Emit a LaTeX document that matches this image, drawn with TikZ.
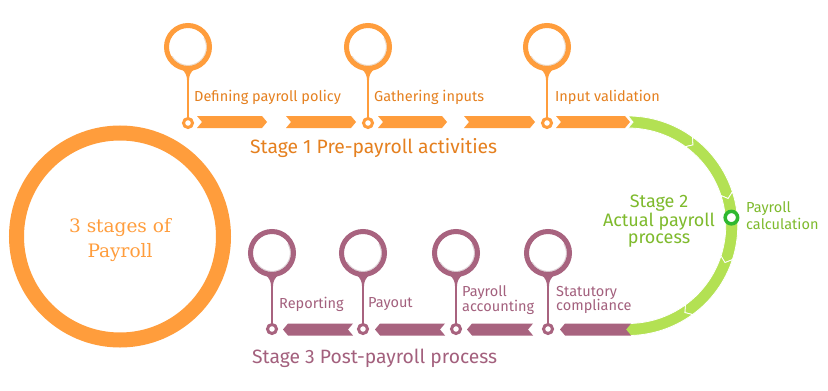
\documentclass[tikz,border=0pt]{standalone}
\usepackage{fontspec}
\setmainfont{Fira Sans}
\newfontfamily\slabfont{DejaVu Serif}
\usetikzlibrary{calc}
\definecolor{orng}{HTML}{FF9D3C}
\definecolor{orngtxt}{HTML}{E5801F}
\definecolor{grn}{HTML}{B3E153}
\definecolor{grntxt}{HTML}{7EBA2C}
\definecolor{grndark}{HTML}{2EB830}
\definecolor{mauve}{HTML}{A8637F}
\definecolor{mauvetxt}{HTML}{A3607D}
\newcommand\chevR[4]{\fill[#4] (#1,{#3+6}) -- ({#2-5},{#3+6}) -- (#2,#3) -- ({#2-5},{#3-6}) -- (#1,{#3-6}) -- ({#1+5},#3) -- cycle;}
\newcommand\chevL[4]{\fill[#4] (#1,#3) -- ({#1+5},{#3+6}) -- (#2,{#3+6}) -- ({#2-5},#3) -- (#2,{#3-6}) -- ({#1+5},{#3-6}) -- cycle;}
\newcommand\drop[2]{\fill[#2] ($(#1.south)+(-6.5,2)$) .. controls +(4,-3) and +(0,4) .. ($(#1.south)+(-1,-9)$) -- ($(#1.south)+(1,-9)$) .. controls +(0,4) and +(-4,-3) .. ($(#1.south)+(6.5,2)$) -- cycle;}
\begin{document}
\begin{tikzpicture}[x=1pt,y=1pt,
  ring/.style={circle, draw=#1, line width=5pt, fill=white, minimum size=43pt, inner sep=0pt},
  dot/.style={circle, draw=#1, line width=3pt, fill=white, minimum size=9pt, inner sep=0pt},
  lbl/.style={anchor=west, inner sep=0pt, font=\fontsize{14.5}{14.6}\selectfont, align=left},
  stagetxt/.style={anchor=west, inner sep=0pt, font=\fontsize{19.3}{16}\selectfont}]
\useasboundingbox (0,0) rectangle (828,-391);
\fill[white] (0,0) rectangle (828,-391);

% big circle
\node[circle, draw=orng, line width=15pt, minimum size=207pt, inner sep=0pt] (big) at (120,-236.5) {};
\node[text=orng, font=\slabfont\fontsize{18.5}{24.5}\selectfont, align=center] (bigtxt) at (120,-240) {3 stages of\\Payroll};

% top pins
\foreach \i/\x in {1/188,2/368,3/547} {
  \draw[orng, line width=2pt] (\x,-68) -- (\x,-118);
  \node[ring=orng] (p\i) at (\x,-47) {};
  \draw[orng!75!black, opacity=0.25, line width=1.2pt] ([shift={(-150:18.5)}]p\i.center) arc[start angle=-150, end angle=30, radius=18.5];
  \drop{p\i}{orng}
  \node[dot=orng] (d\i) at (\x,-123) {};
}
\chevR{197}{267}{-122}{orng}
\chevR{286}{356}{-122}{orng}
\chevR{378}{447}{-122}{orng}
\chevR{464}{535}{-122}{orng}
\chevR{556}{630}{-122}{orng}

\node[lbl, text=orngtxt] (l1) at (194,-97) {Defining payroll policy};
\node[lbl, text=orngtxt] (l2) at (374,-97) {Gathering inputs};
\node[lbl, text=orngtxt] (l3) at (555,-97) {Input validation};
\node[stagetxt, text=orngtxt] (s1) at (250,-148) {Stage 1 Pre-payroll activities};

% green arc
\begin{scope}[shift={(628,-225.75)}]
\foreach \a/\b in {90/54,54/18,18/-18,-18/-54,-54/-90} {
  \filldraw[fill=grn, draw=white, line width=0.8pt] (\a:109.75) arc[start angle=\a, end angle=\b, radius=109.75] -- ({\b-2.8}:103.75) -- (\b:97.75) arc[start angle=\b, end angle=\a, radius=97.75] -- ({\a-2.8}:103.75) -- cycle;
}
\end{scope}
\node[circle, draw=grndark, line width=3.5pt, fill=white, minimum size=12.5pt, inner sep=0pt] (gc) at (731.4,-217.6) {};
\node[anchor=center, inner sep=0pt, text=grntxt, align=center, font=\fontsize{18}{17}\selectfont] (s2) at (659,-221) {Stage 2\\Actual payroll\\process};
\node[lbl, text=grntxt, font=\fontsize{14.5}{17}\selectfont] (l4) at (746,-215.5) {Payroll\\calculation};

% bottom pins
\foreach \i/\x in {4/272,5/363,6/456,7/548} {
  \draw[mauve, line width=2pt] (\x,-274) -- (\x,-324);
  \node[ring=mauve] (p\i) at (\x,-253) {};
  \draw[mauve!75!black, opacity=0.25, line width=1.2pt] ([shift={(-150:18.5)}]p\i.center) arc[start angle=-150, end angle=30, radius=18.5];
  \drop{p\i}{mauve}
  \node[dot=mauve] (d\i) at (\x,-329) {};
}
\chevL{560}{631}{-329.5}{mauve}
\chevL{467}{533}{-329.5}{mauve}
\chevL{375}{445}{-329.5}{mauve}
\chevL{283}{353}{-329.5}{mauve}

\node[lbl, text=mauvetxt] (l5) at (279,-304) {Reporting};
\node[lbl, text=mauvetxt] (l6) at (368,-304) {Payout};
\node[lbl, text=mauvetxt] (l7) at (462,-300) {Payroll\\accounting};
\node[lbl, text=mauvetxt] (l8) at (556,-300) {Statutory\\compliance};
\node[stagetxt, text=mauvetxt] (s3) at (252,-358) {Stage 3 Post-payroll process};
\end{tikzpicture}
\end{document}
